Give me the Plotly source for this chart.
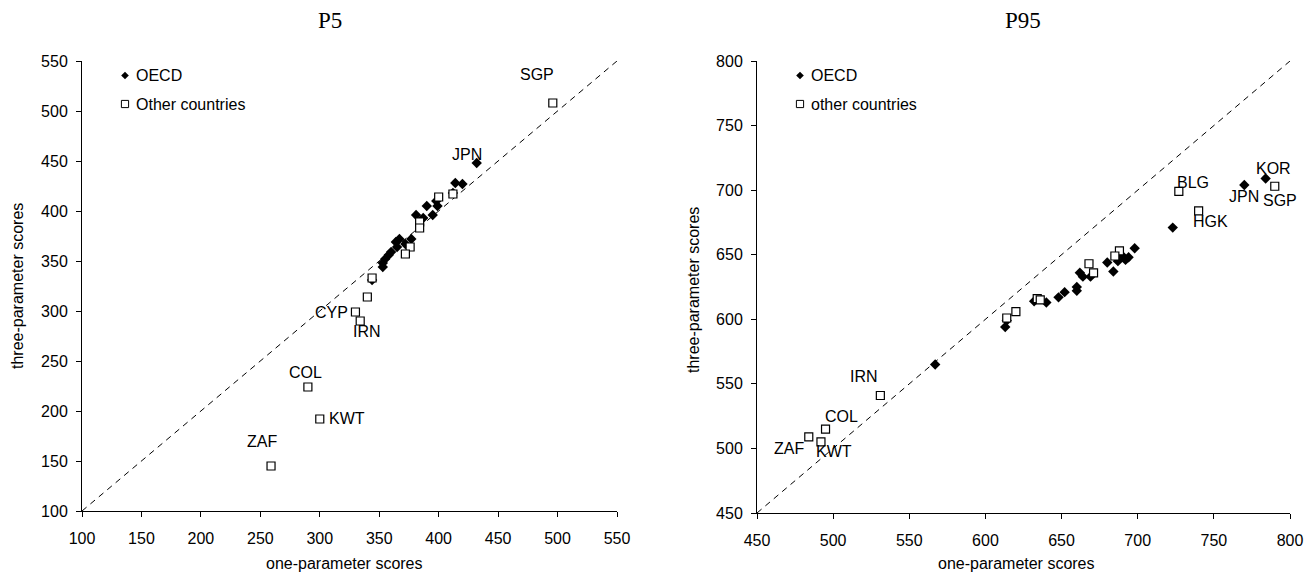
import plotly.graph_objects as go

# ---------------- data ----------------
p5_range = [100, 550]
p5_ticks = [100, 150, 200, 250, 300, 350, 400, 450, 500, 550]
p5_oecd_x = [432, 414, 420, 412, 398, 399, 390, 395, 381, 387, 367, 377, 364, 372, 365, 360, 358, 355, 353, 353, 344]
p5_oecd_y = [448, 428, 427, 418, 410, 405, 405, 396, 396, 393, 372, 372, 369, 367, 364, 359, 356, 352, 348, 344, 331]
p5_oecd_lab = ["JPN"] + [""] * 20
p5_other_x = [496, 412, 400, 384, 384, 376, 372, 344, 340, 330, 334, 290, 300, 259]
p5_other_y = [508, 417, 414, 389, 383, 364, 357, 333, 314, 299, 290, 224, 192, 145]
p5_other_lab = ["SGP", "", "", "", "", "", "", "", "", "CYP", "IRN", "COL", "KWT", "ZAF"]

p95_range = [450, 800]
p95_ticks = [450, 500, 550, 600, 650, 700, 750, 800]
p95_oecd_x = [784, 770, 723, 698, 694, 690, 692, 687, 680, 684, 662, 664, 669, 660, 660, 652, 648, 640, 632, 614, 613, 567]
p95_oecd_y = [709, 704, 671, 655, 648, 649, 646, 645, 644, 637, 636, 633, 633, 625, 622, 621, 617, 613, 614, 599, 594, 565]
p95_oecd_lab = ["KOR", "JPN"] + [""] * 20
p95_other_x = [790, 727, 740, 688, 685, 668, 671, 634, 636, 620, 614, 531, 495, 484, 492]
p95_other_y = [703, 699, 684, 653, 649, 643, 636, 616, 615, 606, 601, 541, 515, 509, 505]
p95_other_lab = ["SGP", "BLG", "HGK", "", "", "", "", "", "", "", "", "IRN", "COL", "ZAF", "KWT"]

# ---------------- styling / layout ----------------
W, H = 1315, 575
OFF = 8  # page body margin
FONT = "Liberation Sans, Arial, sans-serif"
SERIF = "Liberation Serif, Times New Roman, serif"
FS = 16

# label offsets (xshift, yshift) in pixels
label_shift = {
    ("p5", "SGP"): (-16, 28), ("p5", "JPN"): (-10, 8), ("p5", "CYP"): (-24, 0),
    ("p5", "IRN"): (7, -10), ("p5", "COL"): (-2, 15), ("p5", "KWT"): (27, 1),
    ("p5", "ZAF"): (-9, 25),
    ("p95", "KOR"): (8, 10), ("p95", "JPN"): (0, -12), ("p95", "SGP"): (5, -14),
    ("p95", "BLG"): (14, 9), ("p95", "HGK"): (12, -11), ("p95", "IRN"): (-16, 19),
    ("p95", "COL"): (16, 13), ("p95", "ZAF"): (-20, -12), ("p95", "KWT"): (13, -10),
}


def fx(p):
    return (p - OFF) / W


def fy(p):
    return 1 - (p - OFF) / H


fig = go.Figure()


def add_panel(key, xa, ya, rng, ox, oy, olab, tx, ty, tlab):
    fig.add_trace(go.Scatter(x=rng, y=rng, mode="lines", xaxis=xa, yaxis=ya,
                             line=dict(color="black", width=1, dash="6px,5px"),
                             showlegend=False, hoverinfo="skip"))
    fig.add_trace(go.Scatter(x=ox, y=oy, mode="markers", xaxis=xa, yaxis=ya,
                             marker=dict(symbol="diamond", size=8, color="black",
                                         line=dict(width=0)),
                             showlegend=False))
    fig.add_trace(go.Scatter(x=tx, y=ty, mode="markers", xaxis=xa, yaxis=ya,
                             marker=dict(symbol="square", size=8, color="white",
                                         line=dict(width=1.2, color="black")),
                             showlegend=False))
    for xs, ys, labs in ((ox, oy, olab), (tx, ty, tlab)):
        for x, y, lab in zip(xs, ys, labs):
            if not lab:
                continue
            dx, dy = label_shift[(key, lab)]
            fig.add_annotation(x=x, y=y, xref=xa, yref=ya, text=lab,
                               showarrow=False, xshift=dx, yshift=dy,
                               xanchor="center", yanchor="middle",
                               font=dict(family=FONT, size=FS, color="black"))


add_panel("p5", "x", "y", p5_range, p5_oecd_x, p5_oecd_y, p5_oecd_lab,
          p5_other_x, p5_other_y, p5_other_lab)
add_panel("p95", "x2", "y2", p95_range, p95_oecd_x, p95_oecd_y, p95_oecd_lab,
          p95_other_x, p95_other_y, p95_other_lab)

axis_common = dict(showline=True, linecolor="black", linewidth=1, ticks="outside",
                   ticklen=5, tickcolor="black", showgrid=False, zeroline=False,
                   tickfont=dict(family=FONT, size=FS, color="black"), automargin=False,
                   fixedrange=True)

fig.update_layout(
    width=W, height=H,
    margin=dict(l=0, r=0, t=0, b=0),
    paper_bgcolor="white", plot_bgcolor="white",
    showlegend=False,
    xaxis=dict(domain=[fx(82), fx(617)], range=p5_range, tickvals=p5_ticks, anchor="y",
               ticklabelstandoff=8, **axis_common),
    yaxis=dict(domain=[fy(511), fy(61)], range=p5_range, tickvals=p5_ticks, anchor="x",
               ticklabelstandoff=5, **axis_common),
    xaxis2=dict(domain=[fx(757), fx(1290)], range=p95_range, tickvals=p95_ticks, anchor="y2",
                ticklabelstandoff=8, **axis_common),
    yaxis2=dict(domain=[fy(513), fy(61)], range=p95_range, tickvals=p95_ticks, anchor="x2",
                ticklabelstandoff=5, **axis_common),
)


def paper_text(txt, x, y, size=FS, family=FONT, angle=0, xanchor="center"):
    fig.add_annotation(x=fx(x), y=fy(y), xref="paper", yref="paper", text=txt,
                       showarrow=False, textangle=angle, xanchor=xanchor, yanchor="middle",
                       font=dict(family=family, size=size, color="black"))


# titles and axis titles
paper_text("P5", 330, 20, size=23, family=SERIF)
paper_text("P95", 1023, 20, size=23, family=SERIF)
for x in (344, 1016):
    paper_text("one-parameter scores", x, 563)
for x, y in ((18, 286), (693, 290)):
    paper_text("three-parameter scores", x, y, angle=-90)

# manual legends
for cx, names in ((125, ("OECD", "Other countries")), (800, ("OECD", "other countries"))):
    d = 3.8
    yd, ys = 75.5, 104
    fig.add_shape(type="path", xref="paper", yref="paper",
                  path=f"M {fx(cx - d)},{fy(yd)} L {fx(cx)},{fy(yd - d)} L {fx(cx + d)},{fy(yd)} "
                       f"L {fx(cx)},{fy(yd + d)} Z",
                  fillcolor="black", line=dict(width=0))
    s = 3.6
    fig.add_shape(type="rect", xref="paper", yref="paper",
                  x0=fx(cx - s), x1=fx(cx + s), y0=fy(ys + s), y1=fy(ys - s),
                  fillcolor="white", line=dict(color="black", width=1))
    for nm, yy in zip(names, (yd, ys)):
        paper_text(nm, cx + 9, yy, xanchor="left")

fig.write_html("out.html")
